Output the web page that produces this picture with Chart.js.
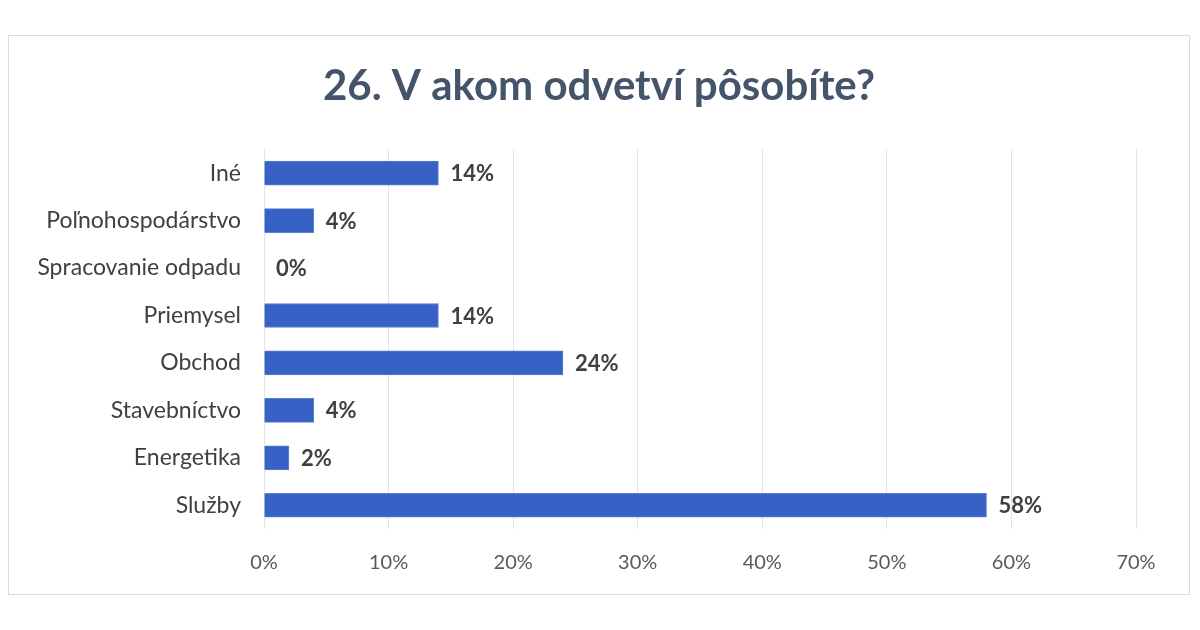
<!DOCTYPE html>
<html>
<head>
<meta charset="utf-8">
<script src="https://cdn.jsdelivr.net/npm/chart.js@4"></script>
<style>
  body { margin: 0; background: #fff; width: 1200px; height: 630px; overflow: hidden; }
  #frame { position: absolute; left: 8px; top: 35px; width: 1180px; height: 558px; border: 1px solid #dcdcdc; }
  #chartOdvetvia { display: block; }
</style>
</head>
<body>
<div id="frame"><canvas id="chartOdvetvia" width="1180" height="558"></canvas></div>
<script>
  // odvetvia a podiely odpovedi (%)
  var odvetvia = ['Iné', 'Poľnohospodárstvo', 'Spracovanie odpadu', 'Priemysel', 'Obchod', 'Stavebníctvo', 'Energetika', 'Služby'];
  var podiely = [14, 4, 0, 14, 24, 4, 2, 58];
  var osX = [0, 10, 20, 30, 40, 50, 60, 70];

  var pismo = 'Lato, "Noto Sans", sans-serif';

  // popisky hodnot za koncom stlpca
  var popisky = {
    id: 'popisky',
    afterDatasetsDraw: function (chart) {
      var ctx = chart.ctx;
      var meta = chart.getDatasetMeta(0);
      ctx.save();
      ctx.font = 'bold 22px ' + pismo;
      ctx.fillStyle = '#404040';
      ctx.textAlign = 'left';
      ctx.textBaseline = 'middle';
      meta.data.forEach(function (bar, i) {
        ctx.fillText(podiely[i] + '%', bar.x + 12, bar.y + 1);
      });
      ctx.restore();
    }
  };

  var chart1 = document.getElementById('chartOdvetvia');
  var bar1 = new Chart(chart1, {
    type: 'bar',
    data: {
      labels: odvetvia,
      datasets: [
        {
          label: 'podiel',
          backgroundColor: '#3761c4',
          borderColor: '#5a7fd4',
          borderWidth: 1,
          barThickness: 24,
          data: podiely
        }
      ]
    },
    options: {
      indexAxis: 'y',
      responsive: false,
      animation: false,
      layout: { padding: 0 },
      plugins: {
        legend: { display: false },
        tooltip: { enabled: false },
        title: {
          display: true,
          text: '26. V akom odvetví pôsobíte?',
          color: '#44546a',
          font: { family: pismo, size: 42, weight: 'bold', lineHeight: 1.2 },
          padding: { top: 25, bottom: 38 }
        }
      },
      scales: {
        x: {
          min: osX[0],
          max: osX[osX.length - 1],
          afterBuildTicks: function (scale) {
            scale.ticks = osX.map(function (v) { return { value: v }; });
          },
          afterFit: function (scale) { scale.height = 65; },
          grid: { color: '#e4e4e4', drawTicks: false },
          border: { display: false },
          ticks: {
            padding: 22,
            color: '#595959',
            font: { family: pismo, size: 20 },
            callback: function (v) { return v + '%'; }
          }
        },
        y: {
          afterFit: function (scale) { scale.width = 255; },
          grid: { display: false },
          border: { display: false },
          ticks: {
            padding: 15,
            color: '#404040',
            font: { family: pismo, size: 23 }
          }
        },
        // prazdny okraj vpravo, aby nadpis ostal v strede
        okraj: {
          type: 'category',
          position: 'right',
          afterFit: function (scale) { scale.width = 53; },
          grid: { display: false },
          border: { display: false },
          ticks: { display: false }
        }
      }
    },
    plugins: [popisky]
  });
</script>
</body>
</html>
